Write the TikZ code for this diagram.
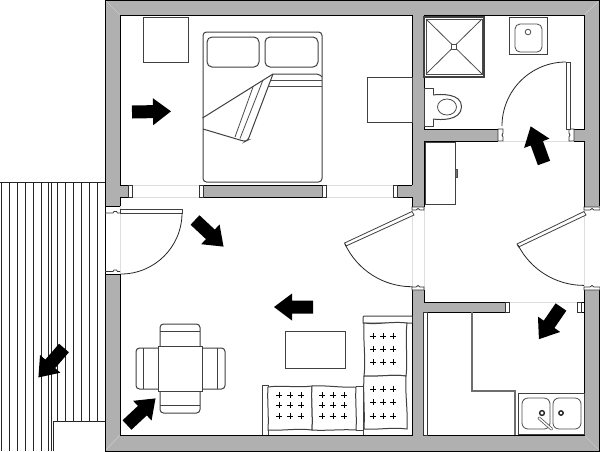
\documentclass[tikz,border=0pt]{standalone}
\definecolor{wallgray}{RGB}{176,176,176}
\definecolor{seam}{RGB}{200,200,200}
\definecolor{thresh}{RGB}{222,222,222}
\definecolor{counter}{RGB}{110,110,110}
\tikzset{
  wall/.style={fill=wallgray,draw=none},
  edge/.style={draw=black,line width=1pt},
  furn/.style={draw=black!75,line width=1pt,fill=white},
  furnline/.style={draw=black!75,line width=1pt},
  fine/.style={draw=black!70,line width=0.8pt},
  threshold/.style={draw=thresh,line width=0.8pt},
  jamb/.style={draw=black!80,fill=white,line width=0.8pt},
  leaf/.style={draw=black!75,fill=white,line width=0.8pt},
  swing/.style={draw=black!85,line width=0.8pt},
  deck/.style={draw=black!85,line width=0.9pt},
  bigarrow/.style={fill=black,draw=none}
}
\newcommand{\flowarrow}[3]{%
  \begin{scope}[shift={(#1,#2)},rotate=#3]
    \fill[bigarrow] (0,-6.5) -- (21,-6.5) -- (21,-13.5) -- (39,0) -- (21,13.5) -- (21,6.5) -- (0,6.5) -- cycle;
  \end{scope}}
\newcommand{\plusgrid}[6]{%
  \foreach \gx in {#1,#2,#3}{\foreach \gy in {#4,#5,#6}{%
    \draw[black,line width=0.9pt] (\gx-2.6,\gy) -- (\gx+2.6,\gy) (\gx,\gy-2.6) -- (\gx,\gy+2.6);}}}
\begin{document}
\begin{tikzpicture}[x=1pt,y=1pt,yscale=-1]
\useasboundingbox (0,0) rectangle (600,451);
\fill[white] (0,0) rectangle (600,451);

% deck
\foreach \dx in {1.5,9.3,17.3,25.3,33.3,41.3,48.7,51.7} \draw[deck] (\dx,182) -- (\dx,451);
\foreach \dx in {57,65,73,81,89,97} \draw[deck] (\dx,182) -- (\dx,421);
\draw[deck] (0,182) -- (105,182);
\draw[deck] (53.3,421) -- (105,421) (53.3,421) -- (53.3,451);

% walls
\fill[wall] (105,0) rectangle (600,451);
\fill[white] (120,15) rectangle (412,185);
\fill[white] (120,197) rectangle (412,435);
\fill[white] (424,15) rectangle (584,129);
\fill[white] (424,141) rectangle (584,302);
\fill[white] (424,312) rectangle (584,435);
\fill[white] (128,185) rectangle (203,197);
\fill[white] (326,185) rectangle (397,197);
\fill[white] (503,129) rectangle (571,141);
\fill[white] (505,302) rectangle (584,312);
\fill[white] (105.5,206) rectangle (120,274);
\fill[white] (412,207) rectangle (424,290);
\fill[white] (584,207) rectangle (600,290);

\draw[seam,line width=0.7pt] (106,1) -- (120,15) (599,1) -- (584,15) (106,450) -- (120,435) (599,450) -- (584,435);

% wall outlines
\draw[edge] (105,182) -- (105,451) -- (600,451);
\draw[edge] (105,182) -- (105,0.5) -- (599.5,0.5) -- (599.5,206);
\draw[edge] (599.5,290) -- (599.5,451);
\draw[edge] (120,197) -- (120,205.5);
\draw[edge] (120,15) -- (412,15) -- (412,185);
\draw[edge] (120,15) -- (120,185) -- (128,185);
\draw[edge] (120,197) -- (128,197);
\draw[edge] (203,185) -- (322,185) (203,197) -- (322,197);
\draw[edge] (397,185) -- (412,185) (397,197) -- (412,197) -- (412,207);
\draw[edge] (424,207) -- (424,141) -- (498,141) (424,129) -- (498,129) (424,129) -- (424,15) -- (584,15) -- (584,129) -- (574,129);
\draw[edge] (574,141) -- (584,141) -- (584,207);
\draw[edge] (120,274) -- (120,435) -- (412,435) -- (412,290);
\draw[edge] (424,290) -- (424,302) -- (505,302) (427,312) -- (505,312) (505,302) -- (505,312);
\draw[edge] (584,290) -- (584,435) -- (427,435);
\draw[edge] (427,312) -- (427,435);
\draw[edge] (577,302) -- (584,302) (577,312) -- (584,312);

% thresholds
\draw[threshold] (120,206) -- (120,274) (412,207) -- (412,290) (424,207) -- (424,290) (584,207) -- (584,290);
\draw[threshold] (503,141) -- (571,141) (509,302) -- (577,302);
\draw[threshold] (132,185) -- (199,185) (132,197) -- (199,197) (326,185) -- (393,185) (326,197) -- (393,197);

% jambs
\draw[jamb] (128,185) rectangle (132,197);
\draw[jamb] (199,185) rectangle (203,197);
\draw[jamb] (322,185) rectangle (326,197);
\draw[jamb] (393,185) rectangle (397,197);
\draw[jamb] (505,302) rectangle (509,312);
\draw[jamb] (577,302) rectangle (581,312);

% entrance door
\draw[edge] (105,206) -- (120,206);
\draw[jamb] (105,213) -- (113,213) -- (114,211.5) -- (116.5,211.5) -- (117.5,213) -- (120,213);
\draw[edge] (105,274) -- (120,274);
\draw[jamb] (105,271.5) -- (113,271.5) -- (114,270) -- (116.5,270) -- (117.5,271.5) -- (120,271.5);
\draw[leaf] (120,209) rectangle (182,213);
\draw[swing] (182,213) arc[start angle=0,end angle=90,radius=61];

% bathroom door
\draw[jamb] (498,129) -- (498,141) -- (503,141) -- (503,137) -- (502,135) -- (503,133) -- (503,129) -- cycle;
\draw[jamb] (574,129) -- (574,141) -- (569,141) -- (569,137) -- (570,135) -- (569,133) -- (569,129) -- cycle;
\draw[leaf] (566,62) rectangle (570,129);
\draw[swing] (566,62) arc[start angle=270,end angle=180,radius=64];

% middle-wall door
\draw[jamb] (412,207) -- (424,207) -- (424,210) -- (420,210) -- (418,208.5) -- (416,210) -- (412,210) -- cycle;
\draw[jamb] (412,290) -- (424,290) -- (424,287) -- (420,287) -- (418,285.5) -- (416,287) -- (412,287) -- cycle;
\draw[leaf] (412,211.5) -- (414,215) -- (346,246) -- (344.5,243) -- cycle;
\draw[swing] (345,244) arc[start angle=155,end angle=90,radius=74];

% east door
\draw[jamb] (584,207) -- (600,207) -- (600,210) -- (594,210) -- (592,208.5) -- (590,210) -- (584,210) -- cycle;
\draw[jamb] (584,290) -- (600,290) -- (600,287) -- (594,287) -- (592,285.5) -- (590,287) -- (584,287) -- cycle;
\draw[leaf] (584,211.5) -- (586,215) -- (518.5,247) -- (517,244) -- cycle;
\draw[swing] (518,245) arc[start angle=153,end angle=90,radius=74];

% bedroom furniture
\draw[furn] (143,17) rectangle (188,62);
\draw[furn] (367,77) rectangle (412,122);
\draw[furn,rounded corners=3.5] (203,32) rectangle (322,182);
\draw[furn,rounded corners=5] (207,37) rectangle (259,67);
\draw[furn,rounded corners=5] (265,37) rectangle (318,67);
\draw[furnline,rounded corners=2] (273,74) -- (319,74) -- (322,77);
\draw[furnline] (202.5,118) -- (273,74);
\draw[furnline,rounded corners=2.5] (203,129) -- (245,141.5) -- (248,140) -- (273,74);
\draw[fine] (253,87) -- (235,137) (263,80) -- (240,138.5);
\draw[fine] (271,80) -- (322,80) (268,86) -- (322,86);

% shower
\draw[furn,line width=1.2pt] (424,17) rectangle (484,77);
\draw[fine] (426,19) rectangle (482,74);
\draw[fine] (426,19) -- (482,74) (482,19) -- (426,74);
\draw[fine,fill=white] (451.5,44.5) rectangle (456.5,49.5);

% basin
\draw[furn] (509,17) rectangle (547,54);
\draw[fine,rounded corners=5] (515,24) rectangle (542,52);
\draw[fine] (528,32) circle[radius=2.8];

% toilet
\draw[furn] (424,88) rectangle (433,126);
\draw[furnline,fill=white] (433,95) .. controls (440,94) and (462,93) .. (461.5,107) .. controls (461,121) and (440,120) .. (433,119);
\draw[fine] (447,107) ellipse[x radius=9.5,y radius=8];

% closet
\draw[furn] (425,142) rectangle (455,204);
\draw[fine,fill=black!55] (455,169) rectangle (457,177);

% kitchen
\draw[draw=black!80,fill=white,line width=0.8pt] (423.5,312) rectangle (427,435);
\draw[counter,line width=1.2pt] (472,312) -- (472,391) -- (515,391) -- (515,435);
\draw[furn,line width=0.9pt] (518,393) rectangle (584,434);
\draw[fine,rounded corners=6] (522,398) rectangle (550,429);
\draw[fine,rounded corners=6] (553,398) rectangle (581,429);
\draw[black!85,line width=1.4pt] (542,413) circle[radius=2.4] (561,413) circle[radius=2.2];
\draw[black!65,line width=3pt,line cap=round] (539,418) -- (551.5,429);
\draw[white,line width=1.4pt,line cap=round] (539,418) -- (551.5,429);

% table and chairs
\draw[furn,rounded corners=3.5] (160,346) -- (160,324) -- (200,324) -- (200,346);
\draw[furnline] (160,331) -- (200,331);
\draw[furn,rounded corners=3.5] (160,391) -- (160,413) -- (200,413) -- (200,391);
\draw[furnline] (160,405) -- (200,405);
\draw[furn,rounded corners=3.5] (158,348) -- (136,348) -- (136,389) -- (158,389);
\draw[furnline] (143,348) -- (143,389);
\draw[furn,rounded corners=3.5] (202,348) -- (225,348) -- (225,389) -- (202,389);
\draw[furnline] (217,348) -- (217,389);
\draw[furn] (158,346) rectangle (202,391);

% coffee table
\draw[furn] (285,331) rectangle (345,368);

% sofa
\draw[furn] (412,316) -- (364,316) -- (363,317) -- (363,323) -- (412,323);
\draw[furnline] (363,386) -- (363,435);
\draw[furnline] (262,435) -- (262,385) -- (268,385) -- (268,435);
\draw[furnline] (356,386) -- (363,386) (356,430) -- (363,430);
\draw[furn] (364,323) .. controls (378,325) and (392,321) .. (407,323) .. controls (405,340) and (408,360) .. (406,376)
  .. controls (392,374) and (378,377) .. (364,376) .. controls (366,360) and (363,340) .. (364,323) -- cycle;
\draw[furn] (364,376) .. controls (378,377) and (392,374) .. (406,376) .. controls (405,395) and (408,410) .. (407,429)
  .. controls (392,427) and (378,430) .. (364,429) .. controls (365,410) and (363,395) .. (364,376) -- cycle;
\draw[furn] (268,387) .. controls (282,385) and (298,388) .. (312,386) .. controls (311,400) and (313,415) .. (312,430)
  .. controls (298,428) and (282,431) .. (268,430) .. controls (269,415) and (267,400) .. (268,387) -- cycle;
\draw[furn] (312,386) .. controls (326,385) and (342,388) .. (356,387) .. controls (355,400) and (357,415) .. (356,430)
  .. controls (342,429) and (326,431) .. (312,430) .. controls (313,415) and (311,400) .. (312,386) -- cycle;
\plusgrid{279}{290}{301}{395}{405}{416}
\plusgrid{322}{333}{344}{395}{405}{416}
\plusgrid{373}{383}{393}{336}{349}{362}
\plusgrid{373}{383}{393}{389}{402}{416}

% arrows
\flowarrow{132}{112}{-1}
\flowarrow{544}{163}{250}
\flowarrow{561}{307}{124.5}
\flowarrow{195}{220}{43}
\flowarrow{313}{307}{180}
\flowarrow{127}{425}{-43}
\flowarrow{64}{348}{131}
\end{tikzpicture}
\end{document}
